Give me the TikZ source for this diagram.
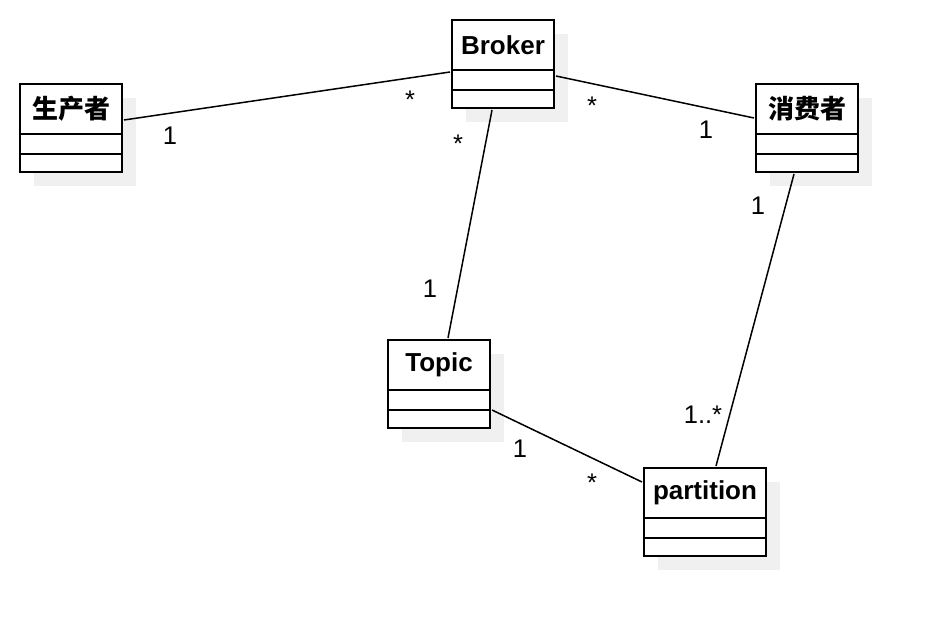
\documentclass[tikz,border=0pt]{standalone}
\usepackage{fontspec}
\setmainfont{Liberation Sans}
\newfontfamily\cjkfont{Noto Sans CJK SC}
\usetikzlibrary{positioning,backgrounds}
\definecolor{lineclr}{RGB}{0,0,0}
\definecolor{shadowclr}{RGB}{240,240,240}
\tikzset{
  clsname/.style={rectangle,draw=lineclr,line width=1.6pt,fill=white,
    minimum width=102pt,minimum height=50pt,inner sep=0pt,outer sep=0pt,
    font=\fontsize{26}{30}\selectfont\bfseries,text=lineclr},
  clsrow/.style={rectangle,draw=lineclr,line width=1.6pt,fill=white,
    minimum width=102pt,minimum height=20pt,inner sep=0pt,outer sep=0pt},
  shadowfill/.style={fill=shadowclr},
  assoc/.style={line width=1.5pt,color=lineclr},
  mult/.style={font=\fontsize{25.5}{30}\selectfont,inner sep=0pt,anchor=base},
}
\begin{document}
\begin{tikzpicture}[x=1pt,y=-1pt]
  \useasboundingbox (0,0) rectangle (936,636);

  % classes
  \node[clsname] (prod-n) at (71,109) {\cjkfont 生产者};
  \node[clsrow,below=0pt of prod-n] (prod-a) {};
  \node[clsrow,below=0pt of prod-a,minimum height=18pt] (prod-o) {};

  \node[clsname] (broker-n) at (503,45) {Broker};
  \node[clsrow,below=0pt of broker-n] (broker-a) {};
  \node[clsrow,below=0pt of broker-a,minimum height=18pt] (broker-o) {};

  \node[clsname] (cons-n) at (807,109) {\cjkfont 消费者};
  \node[clsrow,below=0pt of cons-n] (cons-a) {};
  \node[clsrow,below=0pt of cons-a,minimum height=18pt] (cons-o) {};

  \node[clsname] (topic-n) at (439,365) {Topic};
  \node[clsrow,below=0pt of topic-n] (topic-a) {};
  \node[clsrow,below=0pt of topic-a,minimum height=18pt] (topic-o) {};

  \node[clsname,minimum width=122pt] (part-n) at (705,493) {partition};
  \node[clsrow,minimum width=122pt,below=0pt of part-n] (part-a) {};
  \node[clsrow,minimum width=122pt,below=0pt of part-a,minimum height=18pt] (part-o) {};

  % flat shadows
  \begin{scope}[on background layer]
    \foreach \c in {prod,broker,cons,topic,part}
      \fill[shadowfill] ([shift={(14pt,-14pt)}]\c-n.north west)
        rectangle ([shift={(14pt,-14pt)}]\c-o.south east);
  \end{scope}

  % associations
  \draw[assoc] ([xshift=2pt,yshift=-11pt]prod-n.east) -- ([xshift=-2pt,yshift=-2pt]broker-n.south west);
  \draw[assoc] ([xshift=2pt,yshift=4pt]broker-a.east) -- ([xshift=-2pt,yshift=-9pt]cons-n.west);
  \draw[assoc] ([xshift=-11pt,yshift=-2pt]broker-o.south) -- ([xshift=9pt,yshift=2pt]topic-n.north);
  \draw[assoc] ([xshift=-13pt,yshift=-2pt]cons-o.south) -- ([xshift=11pt,yshift=2pt]part-n.north);
  \draw[assoc] ([xshift=2pt]topic-a.south east) -- ([xshift=-2pt,yshift=11pt]part-n.west);

  % multiplicities
  \node[mult] (m-prod)    at (170,145) {1};
  \node[mult] (m-brk1)    at (410,109) {*};
  \node[mult] (m-brk2)    at (592,115) {*};
  \node[mult] (m-cons1)   at (706,139) {1};
  \node[mult] (m-brk3)    at (458,153) {*};
  \node[mult] (m-topic1)  at (430,297) {1};
  \node[mult] (m-cons2)   at (758,215) {1};
  \node[mult] (m-part1)   at (703,423) {1..*};
  \node[mult] (m-topic2)  at (520,457) {1};
  \node[mult] (m-part2)   at (592,491) {*};
\end{tikzpicture}
\end{document}
